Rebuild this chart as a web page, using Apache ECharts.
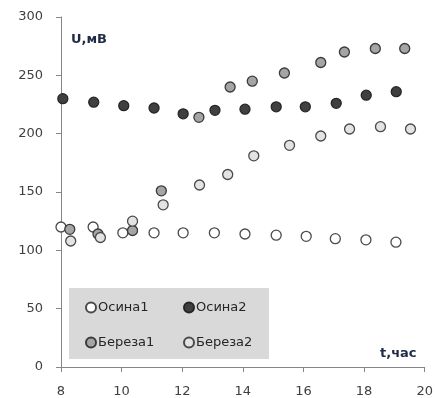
<!DOCTYPE html>
<html><head><meta charset="utf-8">
<script src="https://cdn.jsdelivr.net/npm/echarts@6/dist/echarts.min.js"></script>
<style>html,body{margin:0;padding:0;background:#fff}#c{width:436px;height:398px}</style>
</head><body><div id="c"></div>
<script>
const seriesNames = ['Осина1', 'Осина2', 'Береза1', 'Береза2'];
const osina1X = [8, 9.06, 10.04, 11.07, 12.03, 13.06, 14.07, 15.1, 16.09, 17.05, 18.06, 19.05];
const osina1Y = [120, 120, 115, 115, 115, 115, 114, 113, 112, 110, 109, 107];
const osina2X = [8.06, 9.08, 10.07, 11.07, 12.03, 13.08, 14.07, 15.1, 16.06, 17.08, 18.07, 19.06];
const osina2Y = [230, 227, 224, 222, 217, 220, 221, 223, 223, 226, 233, 236];
const bereza1X = [8.29, 9.22, 10.36, 11.31, 12.55, 13.58, 14.31, 15.37, 16.57, 17.35, 18.37, 19.34];
const bereza1Y = [118, 114, 117, 151, 214, 240, 245, 252, 261, 270, 273, 273];
const bereza2X = [8.32, 9.3, 10.36, 11.37, 12.57, 13.5, 14.36, 15.54, 16.57, 17.52, 18.54, 19.53];
const bereza2Y = [108, 111, 125, 139, 156, 165, 181, 190, 198, 204, 206, 204];
const xTicks = [8, 10, 12, 14, 16, 18, 20];
const yTicks = [0, 50, 100, 150, 200, 250, 300];

const pairs = (xs, ys) => xs.map((x, i) => [x, ys[i]]);
const fills = ['#ffffff', '#404040', '#a5a5a5', '#e3e3e3'];
const borders = ['#4a4a4a', '#262626', '#3a3a3a', '#4a4a4a'];
const datas = [pairs(osina1X, osina1Y), pairs(osina2X, osina2Y), pairs(bereza1X, bereza1Y), pairs(bereza2X, bereza2Y)];
const font = 'DejaVu Sans';

const chart = echarts.init(document.getElementById('c'), null, {renderer: 'canvas'});
chart.setOption({
  animation: false,
  grid: {left: 61, right: 11, top: 17, bottom: 29, containLabel: false},
  xAxis: {
    type: 'value', min: xTicks[0], max: xTicks[xTicks.length - 1], interval: 2,
    axisLine: {lineStyle: {color: '#868686', width: 1}},
    axisTick: {show: true, length: 5, lineStyle: {color: '#868686'}},
    axisLabel: {color: '#404040', fontFamily: font, fontSize: 13, margin: 18},
    splitLine: {show: false}
  },
  yAxis: {
    type: 'value', min: yTicks[0], max: yTicks[yTicks.length - 1], interval: 50,
    axisLine: {show: true, lineStyle: {color: '#868686', width: 1}},
    axisTick: {show: true, length: 5, lineStyle: {color: '#868686'}},
    axisLabel: {color: '#404040', fontFamily: font, fontSize: 13, margin: 18},
    splitLine: {show: false}
  },
  legend: [
    {data: [seriesNames[0], seriesNames[2]], orient: 'vertical', left: 80, top: 296, itemGap: 22,
     itemWidth: 10, itemHeight: 10, icon: 'circle',
     textStyle: {fontFamily: font, fontSize: 13, color: '#262626', padding: [0, 0, 0, -3]}},
    {data: [seriesNames[1], seriesNames[3]], orient: 'vertical', left: 178, top: 296, itemGap: 22,
     itemWidth: 10, itemHeight: 10, icon: 'circle',
     textStyle: {fontFamily: font, fontSize: 13, color: '#262626', padding: [0, 0, 0, -3]}}
  ],
  graphic: [
    {type: 'rect', left: 69, top: 288, shape: {width: 200, height: 71}, style: {fill: '#d9d9d9'}, z: -1},
    {type: 'text', left: 71, top: 33, style: {text: 'U,мВ', fontFamily: font, fontSize: 13, fontWeight: 'bold', fill: '#1f2a44'}},
    {type: 'text', left: 380, top: 347, style: {text: 't,час', fontFamily: font, fontSize: 13, fontWeight: 'bold', fill: '#1f2a44'}}
  ],
  series: datas.map((d, i) => ({
    name: seriesNames[i], type: 'scatter', data: d, symbol: 'circle', symbolSize: 10,
    itemStyle: {color: fills[i], borderColor: borders[i], borderWidth: 1.3, opacity: 1}
  }))
});
</script></body></html>
